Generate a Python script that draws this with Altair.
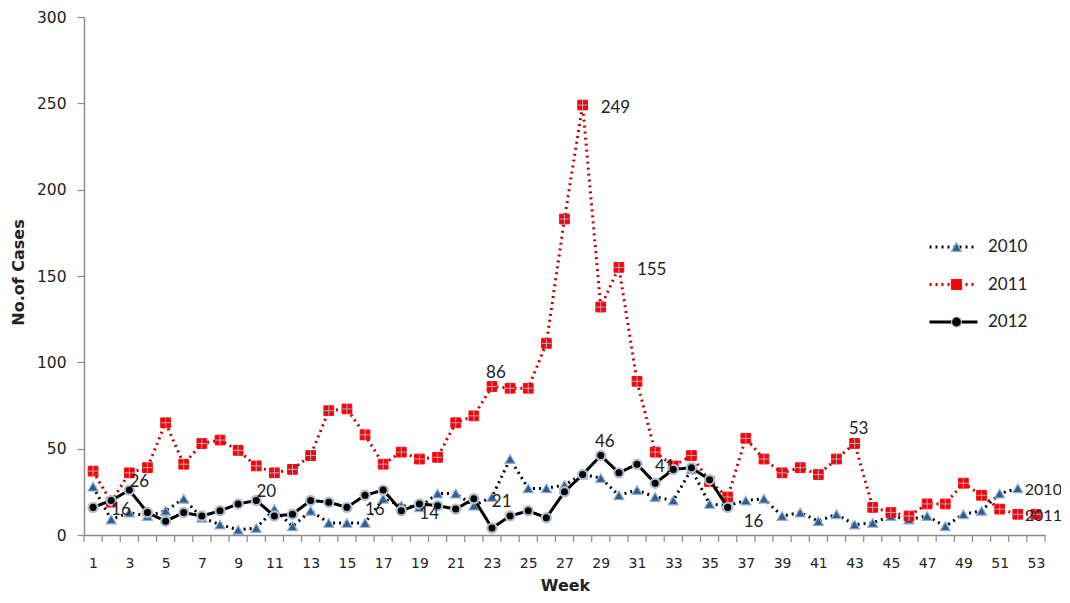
import altair as alt
import numpy as np
import pandas as pd

# ---------------- data ----------------
years = ["2010", "2011", "2012"]
week_tick_labels = list(range(1, 54, 2))
y_tick_values = [0, 50, 100, 150, 200, 250, 300]

cases_2010 = [28, 9, 13, 11, 14, 21, 10, 6, 3, 4,
              15, 5, 14, 7, 7, 7, 21, 17, 16, 24,
              24, 17, 22, 44, 27, 27, 29, 35, 33, 23,
              26, 22, 20, 38, 18, 17, 20, 21, 11, 13,
              8, 12, 6, 7, 11, 9, 11, 5, 12, 14,
              24, 27]
cases_2011 = [37, 19, 36, 39, 65, 41, 53, 55, 49, 40,
              36, 38, 46, 72, 73, 58, 41, 48, 44, 45,
              65, 69, 86, 85, 85, 111, 183, 249, 132, 155,
              89, 48, 40, 46, 31, 22, 56, 44, 36, 39,
              35, 44, 53, 16, 13, 11, 18, 18, 30, 23,
              15, 12, 12]
cases_2012 = [16, 20, 26, 13, 8, 13, 11, 14, 18, 20,
              11, 12, 20, 19, 16, 23, 26, 14, 18, 17,
              15, 21, 4, 11, 14, 10, 25, 35, 46, 36,
              41, 30, 38, 39, 32, 16]

# weeks whose value is written next to the point
value_label_weeks = {"2012": [1, 3, 10, 15, 18, 22, 29, 31, 36],
                     "2011": [23, 28, 30, 43]}
# week at which the series name is written
name_label_week = {"2010": 52, "2011": 52}

# ---------------- tables ----------------
rows = []
for yr, vals in zip(years, [cases_2010, cases_2011, cases_2012]):
    for i, v in enumerate(vals):
        rows.append({"Week": i + 1, "Cases": v, "Year": yr, "Series": yr})
df = pd.DataFrame(rows)

series_vals = dict(zip(years, [cases_2010, cases_2011, cases_2012]))
placement = {("2012", 1): "right", ("2012", 3): "upright", ("2012", 10): "upright",
             ("2012", 15): "right", ("2012", 18): "right", ("2012", 22): "right",
             ("2012", 29): "above", ("2012", 31): "right", ("2012", 36): "downright",
             ("2011", 23): "above", ("2011", 28): "right", ("2011", 30): "right",
             ("2011", 43): "above"}
lab_rows = []
for yr, wks in value_label_weeks.items():
    for w in wks:
        lab_rows.append({"Week": w, "Cases": series_vals[yr][w - 1],
                         "Text": str(series_vals[yr][w - 1]), "Place": placement[(yr, w)]})
for yr, w in name_label_week.items():
    lab_rows.append({"Week": w, "Cases": series_vals[yr][w - 1], "Text": yr, "Place": "name"})
labels_df = pd.DataFrame(lab_rows)

bounds_df = pd.DataFrame({"Week": np.arange(0.5, 54.0, 1.0)})

# ---------------- styling ----------------
AXIS_GREY = "#8C8C8C"
TXT = "#222222"
W, H = 961, 518

x_scale = alt.Scale(domain=[0.5, 53.5], nice=False, zero=False)
y_scale = alt.Scale(domain=[0, 300], nice=False, zero=True)

x_axis = alt.Axis(values=week_tick_labels, ticks=False, tickSize=0, grid=False,
                  domainColor=AXIS_GREY, domainWidth=1.5,
                  labelFont="DejaVu Sans", labelFontSize=14, labelColor=TXT,
                  labelPadding=21, labelFlush=False, labelOverlap=False,
                  title="Week", titleFont="DejaVu Sans", titleFontSize=16,
                  titleFontWeight="bold", titleColor=TXT,
                  titleX=481, titleY=55, titleBaseline="alphabetic", titleAlign="center")
y_axis = alt.Axis(values=y_tick_values, grid=False, tickSize=7, tickColor=AXIS_GREY,
                  domainColor=AXIS_GREY, domainWidth=1.5, tickWidth=1.2,
                  labelFont="DejaVu Sans", labelFontSize=15.5, labelColor=TXT,
                  labelPadding=11,
                  title="No.of Cases", titleFont="DejaVu Sans", titleFontSize=16,
                  titleFontWeight="bold", titleColor=TXT, titleAngle=270,
                  titleX=-66, titleY=255, titleAlign="center", titleBaseline="middle")

x_enc = alt.X("Week:Q", scale=x_scale, axis=x_axis)
y_enc = alt.Y("Cases:Q", scale=y_scale, axis=y_axis)

leg_line = alt.Legend(title=None, orient="none", legendX=844, legendY=212,
                      padding=0, symbolType="stroke", symbolSize=2304,
                      clipHeight=36, rowPadding=1.5,
                      labelFont="Lato", labelFontSize=17, labelColor=TXT, labelOffset=9)
leg_pt = alt.Legend(title=None, orient="none", legendX=864, legendY=212,
                    padding=0, symbolSize=100, clipHeight=36, rowPadding=1.5,
                    symbolStrokeWidth=1.2, labelExpr="''",
                    labelFont="Lato", labelFontSize=17, labelOffset=0)

DOT = [2, 4]
line_color = alt.Color("Year:N", scale=alt.Scale(domain=years, range=["#000000", "#C00000", "#000000"]),
                       legend=leg_line)
line_dash = alt.StrokeDash("Year:N", scale=alt.Scale(domain=years, range=[DOT, DOT, [1, 0]]),
                           legend=leg_line)
line_width = alt.StrokeWidth("Year:O", scale=alt.Scale(domain=years, range=[3, 3, 4.5]),
                             legend=leg_line)

pt_fill = alt.Fill("Series:N", scale=alt.Scale(range=["#2F5D8E", "#FF0000", "#000000"]), legend=leg_pt)
pt_shape = alt.Shape("Series:N", scale=alt.Scale(range=["triangle-up", "square", "circle"]), legend=leg_pt)
pt_stroke = alt.Stroke("Series:N", scale=alt.Scale(range=["#8EAFD4", "#F01010", "#AEBDD2"]), legend=leg_pt)

base = alt.Chart(df)
layers = []
pt_style = {"2010": dict(size=100, strokeWidth=1.2),
            "2011": dict(size=95, strokeWidth=1),
            "2012": dict(size=85, strokeWidth=2.2)}
for yr in years:
    sub = base.transform_filter(alt.datum.Year == yr)
    layers.append(sub.mark_line(strokeJoin="round").encode(
        x=x_enc, y=y_enc, color=line_color, strokeDash=line_dash, strokeWidth=line_width))
    layers.append(sub.mark_point(filled=True, opacity=1, **pt_style[yr]).encode(
        x=x_enc, y=y_enc, fill=pt_fill, shape=pt_shape, stroke=pt_stroke))
    if yr == "2011":
        layers.append(sub.mark_point(shape="M-1,0H1M0,-1V1", filled=False, stroke="#9DB3D8",
                                     strokeWidth=1, size=95, opacity=1).encode(x=x_enc, y=y_enc))

place_style = {"right": dict(align="left", dx=18, dy=3, fontSize=17),
               "upright": dict(align="center", dx=10, dy=-8, fontSize=17),
               "above": dict(align="center", dx=4, dy=-14, fontSize=17),
               "downright": dict(align="left", dx=16, dy=15, fontSize=17),
               "name": dict(align="left", dx=7, dy=2, fontSize=16)}
lab_base = alt.Chart(labels_df)
for place, st in place_style.items():
    layers.append(lab_base.transform_filter(alt.datum.Place == place).mark_text(
        font="Lato", color=TXT, baseline="middle", **st).encode(
        x=x_enc, y=y_enc, text="Text:N"))

# tick marks between the week categories
layers.append(alt.Chart(bounds_df).mark_rule(color=AXIS_GREY, strokeWidth=1.2).encode(
    x=x_enc, y=alt.value(H), y2=alt.value(H + 7)))

chart = alt.layer(*layers).properties(
    width=W, height=H,
    autosize=alt.AutoSizeParams(type="none"),
    padding={"left": 76, "top": 9, "right": 16, "bottom": 60},
    background="white",
).configure_view(stroke="transparent")

chart.save("out.html", embed_options={"renderer": "svg", "actions": False})
